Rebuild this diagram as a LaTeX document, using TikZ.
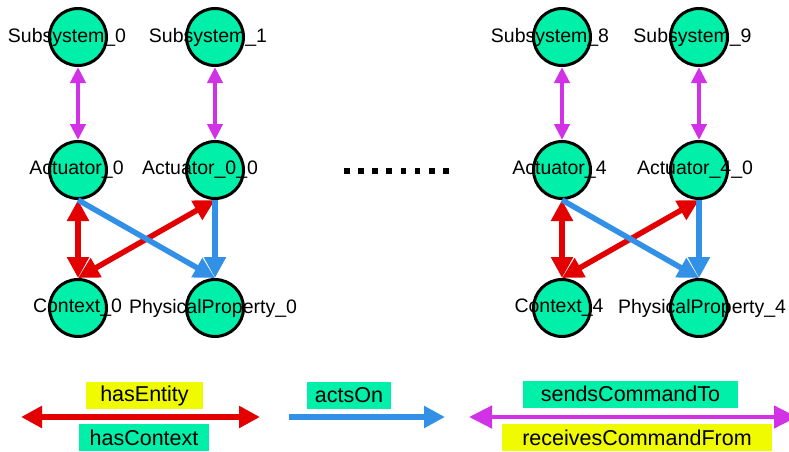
\documentclass[tikz,border=0pt]{standalone}
\usepackage{fontspec}
\setmainfont{Liberation Sans}
\usetikzlibrary{arrows.meta}
\definecolor{mint}{RGB}{0,240,170}
\definecolor{lemon}{RGB}{240,250,0}
\definecolor{redline}{RGB}{226,0,0}
\definecolor{blueline}{RGB}{50,145,230}
\definecolor{magline}{RGB}{210,50,230}
\tikzset{
  ent/.style={circle,draw=black,line width=3pt,fill=mint,minimum size=57pt,inner sep=0pt},
  lbl/.style={anchor=base,inner sep=0pt,text=black,font=\fontsize{19.5}{22}\selectfont},
  key/.style={inner sep=0pt,minimum height=27pt,text=black,font=\fontsize{21.5}{24}\selectfont},
  subrel/.style={color=magline,line width=4pt,arrows={Triangle[length=16pt,width=15pt]-Triangle[length=16pt,width=15pt]}},
  hasrel/.style={color=redline,line width=5.5pt,arrows={Triangle[length=21pt,width=21pt]-Triangle[length=21pt,width=21pt]}},
  actrel/.style={color=blueline,line width=5.5pt,arrows={-Triangle[length=21pt,width=21pt]}},
}
\begin{document}
\begin{tikzpicture}[x=1pt,y=-1pt]
  \useasboundingbox (0,0) rectangle (789,452);
  \clip (0,0) rectangle (789,452);
  % left group
  \node[ent,label={[lbl,xshift=-11pt]center:Subsystem\_0}] (s0) at (78,37) {};
  \node[ent,label={[lbl,xshift=-7pt]center:Subsystem\_1}] (s1) at (215,37) {};
  \node[ent,label={[lbl,xshift=-1.5pt]center:Actuator\_0}] (a0) at (78,170) {};
  \node[ent,label={[lbl,xshift=-15pt]center:Actuator\_0\_0}] (a00) at (215,170) {};
  \node[ent,label={[lbl,xshift=-0.5pt]center:Context\_0}] (c0) at (78,308) {};
  \node[ent,label={[lbl,xshift=-2pt]center:PhysicalProperty\_0}] (p0) at (215,308) {};
  % right group
  \node[ent,label={[lbl,xshift=-12pt]center:Subsystem\_8}] (s8) at (562,37) {};
  \node[ent,label={[lbl,xshift=-6.5pt]center:Subsystem\_9}] (s9) at (699,37) {};
  \node[ent,label={[lbl,xshift=-2.5pt]center:Actuator\_4}] (a4) at (562,170) {};
  \node[ent,label={[lbl,xshift=-4pt]center:Actuator\_4\_0}] (a40) at (699,170) {};
  \node[ent,label={[lbl,xshift=-3pt]center:Context\_4}] (c4) at (562,308) {};
  \node[ent,label={[lbl,xshift=3pt]center:PhysicalProperty\_4}] (p4) at (699,308) {};

  \path[subrel]
    (s0.south) edge (a0.north)
    (s1.south) edge (a00.north)
    (s8.south) edge (a4.north)
    (s9.south) edge (a40.north);
  \path[hasrel]
    (a0.south) edge (c0.north)
    (a00.south) edge (c0.north)
    (a4.south) edge (c4.north)
    (a40.south) edge (c4.north);
  \path[actrel]
    (a0.south) edge (p0.north)
    (a00.south) edge (p0.north)
    (a4.south) edge (p4.north)
    (a40.south) edge (p4.north);

  \foreach \i in {0,...,7}
    \fill (344.1+\i*14.1,168.2) rectangle ++(5.8,5.8);

  % legend
  \node[key,fill=lemon,minimum width=117pt] (entk) at (144.5,395.5) {hasEntity};
  \node[key,fill=mint,minimum width=130pt] (ctxk) at (144,437.5) {hasContext};
  \node[key,fill=mint,minimum width=84pt] (actk) at (349,395) {actsOn};
  \node[key,fill=mint,minimum width=215pt] (sndk) at (630.5,394) {sendsCommandTo};
  \node[key,fill=lemon,minimum width=270pt] (rcvk) at (637,437.5) {receivesCommandFrom};
  \coordinate (hl) at (21,417);
  \coordinate (hr) at (260,417);
  \coordinate (al) at (289,417);
  \coordinate (ar) at (445,417);
  \coordinate (ml) at (469,417);
  \coordinate (mr) at (797,417);
  \path[hasrel,line width=6pt] (hl) edge (hr);
  \path[actrel,line width=6pt] (al) edge (ar);
  \path[subrel,line width=4.5pt,arrows={Triangle[length=23pt,width=22pt]-Triangle[length=23pt,width=22pt]}] (ml) edge (mr);
\end{tikzpicture}
\end{document}
